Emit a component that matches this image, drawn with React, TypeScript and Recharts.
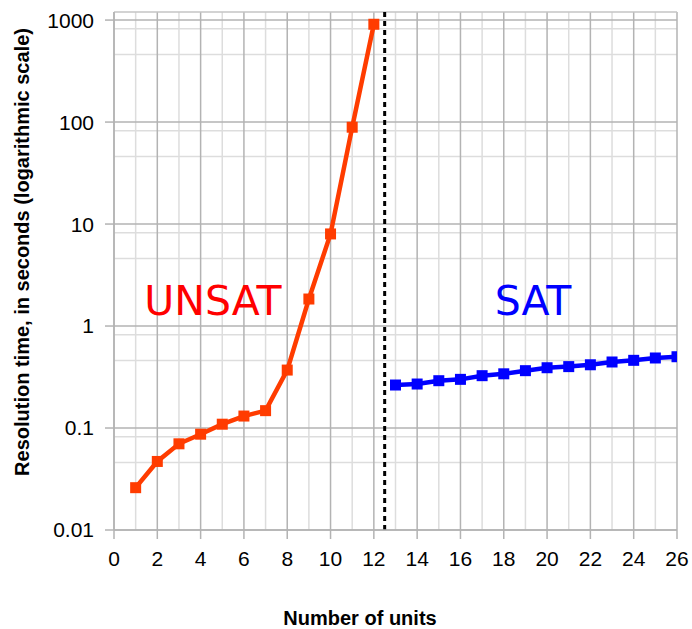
import React from 'react';
import { LineChart, Line, XAxis, YAxis, CartesianGrid, ReferenceLine, ReferenceDot, Label } from 'recharts';

// values
const unsatUnits = [1, 2, 3, 4, 5, 6, 7, 8, 9, 10, 11, 12];
const unsatTimes = [0.026, 0.047, 0.07, 0.087, 0.109, 0.131, 0.148, 0.37, 1.84, 8.0, 89, 910];

const satUnits = [13, 14, 15, 16, 17, 18, 19, 20, 21, 22, 23, 24, 25, 26];
const satTimes = [0.264, 0.27, 0.291, 0.3, 0.326, 0.34, 0.365, 0.39, 0.4, 0.417, 0.444, 0.461, 0.486, 0.5];

const xTicks = [0, 2, 4, 6, 8, 10, 12, 14, 16, 18, 20, 22, 24, 26];
const xMinor = [1, 3, 5, 7, 9, 11, 13, 15, 17, 19, 21, 23, 25];
const yTicks = [0.01, 0.1, 1, 10, 100, 1000];
// LibreOffice-style minor grid: 4 linear steps inside each decade
const yMinor = [0.01, 0.1, 1, 10, 100].flatMap(d => [2.8 * d, 4.6 * d, 6.4 * d, 8.2 * d]);

const unsatData = unsatUnits.map((u, i) => ({ units: u, time: unsatTimes[i] }));
const satData = satUnits.map((u, i) => ({ units: u, time: satTimes[i] }));

const RED = '#ff3c00';
const BLUE = '#0000ff';
const FONT = '"Liberation Sans", Arial, sans-serif';

const square = (color: string) => (props: any) => {
    const { cx, cy } = props;
    if (cx == null || cy == null) return <g />;
    return <rect x={cx - 5.5} y={cy - 5.5} width={11} height={11} fill={color} />;
};

export default function App() {
    return (
        <div style={{ position: 'absolute', left: 0, top: 0, background: '#fff' }}>
            <LineChart width={692} height={629} margin={{ top: 12, right: 15, left: 0, bottom: 0 }}>
                <CartesianGrid stroke="#dddddd" strokeWidth={1.5} horizontalValues={yMinor} verticalValues={xMinor} />
                <CartesianGrid stroke="#b3b3b3" strokeWidth={1.5} horizontalValues={yTicks} verticalValues={xTicks} />
                <ReferenceLine y={1200} stroke="#c4c4c4" strokeWidth={1.5} />
                <XAxis
                    dataKey="units"
                    type="number"
                    domain={[0, 26]}
                    ticks={xTicks}
                    allowDataOverflow
                    height={99}
                    axisLine={{ stroke: '#b3b3b3', strokeWidth: 1.5 }}
                    tickLine={{ stroke: '#b3b3b3', strokeWidth: 1.5 }}
                    tickSize={9}
                    tickMargin={12}
                    tick={{ fill: '#000', fontSize: 21, fontFamily: FONT }}
                >
                    <Label
                        content={() => (
                            <text x={360} y={625} textAnchor="middle" fontFamily={FONT} fontWeight="bold" fontSize={20} fill="#000">
                                Number of units
                            </text>
                        )}
                    />
                </XAxis>
                <YAxis
                    type="number"
                    scale="log"
                    domain={[0.01, 1200]}
                    ticks={yTicks}
                    allowDataOverflow
                    width={114}
                    axisLine={{ stroke: '#b3b3b3', strokeWidth: 1.5 }}
                    tickLine={{ stroke: '#b3b3b3', strokeWidth: 1.5 }}
                    tickSize={9}
                    tickMargin={11}
                    tick={{ fill: '#000', fontSize: 21, fontFamily: FONT }}
                >
                    <Label
                        content={() => (
                            <text
                                x={22}
                                y={252}
                                transform="rotate(-90 22 252)"
                                textAnchor="middle"
                                dominantBaseline="central"
                                fontFamily={FONT}
                                fontWeight="bold"
                                fontSize={20}
                                fill="#000"
                            >
                                Resolution time, in seconds (logarithmic scale)
                            </text>
                        )}
                    />
                </YAxis>
                <ReferenceLine x={12.5} stroke="#000" strokeWidth={3} strokeDasharray="5 4" />
                <ReferenceDot x={4.57} y={1.8} r={0} stroke="none" fill="none">
                    <Label value="UNSAT" position="center" fill="#ff0000" fontSize={41} fontFamily='"DejaVu Sans", sans-serif' />
                </ReferenceDot>
                <ReferenceDot x={19.35} y={1.8} r={0} stroke="none" fill="none">
                    <Label value="SAT" position="center" fill={BLUE} fontSize={41} fontFamily='"DejaVu Sans", sans-serif' />
                </ReferenceDot>
                <Line
                    data={unsatData}
                    dataKey="time"
                    stroke={RED}
                    strokeWidth={4.5}
                    dot={square(RED)}
                    activeDot={false}
                    isAnimationActive={false}
                />
                <Line
                    data={satData}
                    dataKey="time"
                    stroke={BLUE}
                    strokeWidth={4.5}
                    dot={square(BLUE)}
                    activeDot={false}
                    isAnimationActive={false}
                />
            </LineChart>
        </div>
    );
}
